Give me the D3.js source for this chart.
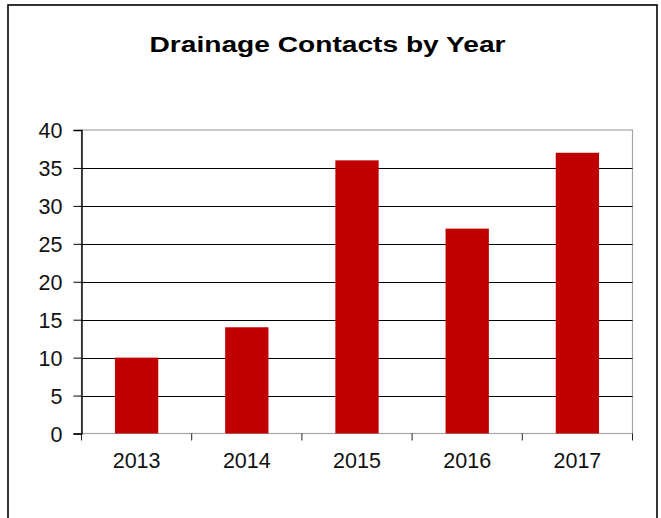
<!DOCTYPE html>
<html>
<head>
<meta charset="utf-8">
<script src="https://cdn.jsdelivr.net/npm/d3@7"></script>
<style>
  html, body { margin: 0; padding: 0; background: #fff; }
  svg { display: block; }
</style>
</head>
<body>
<svg id="chart" width="661" height="518"></svg>
<script>
// Contacts logged per year
const years = ["2013", "2014", "2015", "2016", "2017"];
const contacts = [10, 14, 36, 27, 37];
const yTicks = [0, 5, 10, 15, 20, 25, 30, 35, 40];
const title = "Drainage Contacts by Year";

const svg = d3.select("#chart");
const plot = { left: 81.5, right: 632.5, top: 130, bottom: 433.5 };
const font = "'Liberation Sans', Arial, sans-serif";

// outer frame
svg.append("rect")
  .attr("x", 8).attr("y", 5)
  .attr("width", 649).attr("height", 530)
  .attr("fill", "#fff").attr("stroke", "#000").attr("stroke-width", 1.6);

// title (wide bold face)
svg.append("text")
  .attr("transform", "translate(327.5,52) scale(1.28,1)")
  .attr("text-anchor", "middle")
  .attr("font-family", font).attr("font-weight", "bold")
  .attr("font-size", 22)
  .attr("fill", "#000")
  .text(title);

const y = d3.scaleLinear().domain([0, 40]).range([plot.bottom, plot.top]);
const xCat = d3.scaleBand().domain(years).range([plot.left, plot.right]).padding(0);
const xBar = d3.scaleBand().domain(years).range([plot.left, plot.right])
  .paddingInner(0.607).paddingOuter(0.3035);

// plot area border (grey)
svg.append("rect")
  .attr("x", plot.left).attr("y", plot.top)
  .attr("width", plot.right - plot.left).attr("height", plot.bottom - plot.top)
  .attr("fill", "none").attr("stroke", "#a6a6a6").attr("stroke-width", 1.2);

// horizontal gridlines
svg.append("g").selectAll("line")
  .data(yTicks.filter(v => v > 0 && v < 40))
  .join("line")
  .attr("x1", plot.left).attr("x2", plot.right)
  .attr("y1", d => Math.round(y(d)) + 0.5).attr("y2", d => Math.round(y(d)) + 0.5)
  .attr("stroke", "#000").attr("stroke-width", 1);

// bars
svg.append("g").selectAll("rect")
  .data(years.map((yr, i) => ({ yr, v: contacts[i] })))
  .join("rect")
  .attr("x", d => xBar(d.yr))
  .attr("width", xBar.bandwidth())
  .attr("y", d => y(d.v))
  .attr("height", d => y(0) - y(d.v))
  .attr("fill", "#c00000");

// y axis
const yAxis = d3.axisLeft(y).tickValues(yTicks).tickSize(8).tickPadding(11);
const gy = svg.append("g").attr("transform", `translate(${plot.left},0)`).call(yAxis);
gy.select(".domain").attr("stroke", "#000").attr("stroke-width", 1.4);
gy.selectAll(".tick line").attr("stroke", "#000").attr("stroke-width", 1);
gy.selectAll("text")
  .attr("font-family", font).attr("font-size", 21.5).attr("fill", "#111")
  .attr("dy", "0.36em");

// x axis: category boundary ticks + centered labels
const xAxisG = svg.append("g");
const bounds = years.map(d => xCat(d)).concat([plot.right]);
xAxisG.selectAll("line")
  .data(bounds)
  .join("line")
  .attr("x1", d => d).attr("x2", d => d)
  .attr("y1", plot.bottom).attr("y2", plot.bottom + 7)
  .attr("stroke", "#222").attr("stroke-width", 1);
xAxisG.selectAll("text")
  .data(years)
  .join("text")
  .attr("x", d => xCat(d) + xCat.bandwidth() / 2)
  .attr("y", 468)
  .attr("text-anchor", "middle")
  .attr("font-family", font).attr("font-size", 21.5).attr("fill", "#111")
  .text(d => d);
</script>
</body>
</html>
